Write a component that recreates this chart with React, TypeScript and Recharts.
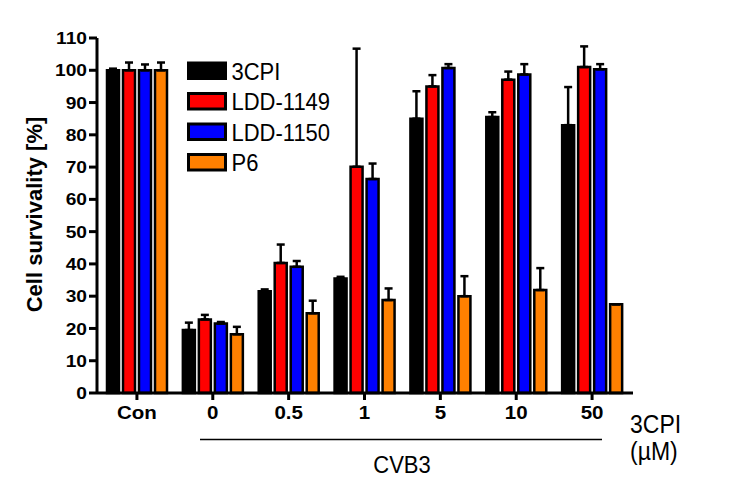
import React from 'react';
import { BarChart, Bar, XAxis, YAxis, ErrorBar, Legend } from 'recharts';

const categories = ['Con', '0', '0.5', '1', '5', '10', '50'];
const cpi = [100, 19.5, 31.5, 35.5, 85, 85.5, 83];
const cpiErr = [0.5, 2.3, 0.6, 0.5, 8.5, 1.5, 11.8];
const ldd1149 = [100, 22.8, 40.3, 70.1, 95, 97.1, 101];
const ldd1149Err = [2.4, 1.4, 5.7, 36.6, 3.5, 2.5, 6.4];
const ldd1150 = [100, 21.5, 39.1, 66.3, 100.7, 98.7, 100.3];
const ldd1150Err = [1.8, 0.5, 1.8, 4.8, 1.2, 3.2, 1.6];
const p6 = [100, 18.2, 24.7, 28.8, 30, 31.9, 27.5];
const p6Err = [2.4, 2.3, 3.9, 3.6, 6.2, 6.8, 0];
const yTicks = [0, 10, 20, 30, 40, 50, 60, 70, 80, 90, 100, 110];
const seriesNames = ['3CPI', 'LDD-1149', 'LDD-1150', 'P6'];
const seriesColors = ['#000000', '#FF0000', '#0000FF', '#FF8000'];

const data = categories.map((c, i) => ({
  cat: c,
  s0: cpi[i], e0: [0, cpiErr[i]],
  s1: ldd1149[i], e1: [0, ldd1149Err[i]],
  s2: ldd1150[i], e2: [0, ldd1150Err[i]],
  s3: p6[i], e3: [0, p6Err[i]],
}));

const FONT = '"Liberation Sans", Arial, Helvetica, sans-serif';

const YTick = (props: any) => {
  const { x, y, payload } = props;
  return (
    <text
      transform={`translate(${x}, ${y}) scale(1.13, 1)`}
      textAnchor="end"
      dy="0.36em"
      fontFamily={FONT}
      fontSize={17}
      fontWeight="bold"
      fill="#000"
    >
      {payload.value}
    </text>
  );
};

const XTick = (props: any) => {
  const { x, y, payload } = props;
  return (
    <text
      transform={`translate(${x}, ${y}) scale(1.08, 1)`}
      textAnchor="middle"
      dy="0.71em"
      fontFamily={FONT}
      fontSize={19}
      fontWeight="bold"
      fill="#000"
    >
      {payload.value}
    </text>
  );
};

const LegendContent = () => (
  <svg width={180} height={130} style={{ display: 'block' }}>
    {seriesNames.map((n, i) => (
      <g key={n} transform={`translate(${8.5}, ${8 + i * 30.5})`}>
        <rect x={0} y={0} width={37} height={15.5} fill={seriesColors[i]} stroke="#000" strokeWidth={3} />
        <text
          transform={`translate(43, 16.5) scale(1, 1.1)`}
          fontFamily={FONT}
          fontSize={22}
          fill="#000"
        >
          {n}
        </text>
      </g>
    ))}
  </svg>
);

export default function App() {
  return (
    <div style={{ position: 'absolute', left: 0, top: 0, width: 738, height: 484, background: '#fff' }}>
      <BarChart
        width={738}
        height={484}
        data={data}
        margin={{ top: 38, right: 105, bottom: 61, left: 37 }}
        barSize={12}
        barGap={4}
      >
        <XAxis
          dataKey="cat"
          height={30}
          padding={{ left: 2, right: 3 }}
          axisLine={{ stroke: '#000', strokeWidth: 3 }}
          tickLine={{ stroke: '#000', strokeWidth: 3 }}
          tickSize={7}
          tickMargin={6}
          tick={<XTick />}
          interval={0}
        />
        <YAxis
          width={60}
          domain={[0, 110]}
          ticks={yTicks}
          interval={0}
          axisLine={{ stroke: '#000', strokeWidth: 3 }}
          tickLine={{ stroke: '#000', strokeWidth: 3 }}
          tickSize={8}
          tickMargin={2}
          tick={<YTick />}
        />
        <Legend
          layout="vertical"
          align="center"
          verticalAlign="middle"
          wrapperStyle={{ left: 180, top: 55, width: 180, height: 130 }}
          content={<LegendContent />}
        />
        {seriesNames.map((n, i) => (
          <Bar
            key={n}
            dataKey={`s${i}`}
            name={n}
            fill={seriesColors[i]}
            stroke="#000"
            strokeWidth={2.5}
            isAnimationActive={false}
          >
            <ErrorBar dataKey={`e${i}`} width={4} stroke="#000" strokeWidth={2.5} direction="y" />
          </Bar>
        ))}
      </BarChart>
      <svg
        width={738}
        height={484}
        style={{ position: 'absolute', left: 0, top: 0, pointerEvents: 'none' }}
      >
        <text
          transform="translate(42, 214.5) rotate(-90)"
          textAnchor="middle"
          fontFamily={FONT}
          fontSize={22}
          fontWeight="bold"
          fill="#000"
        >
          Cell survivality [%]
        </text>
        <line x1={200} x2={602} y1={439.5} y2={439.5} stroke="#000" strokeWidth={1.5} />
        <text transform="translate(402, 473) scale(1, 1.12)" textAnchor="middle" fontFamily={FONT} fontSize={22} fill="#000">
          CVB3
        </text>
        <text transform="translate(630, 432.5) scale(1, 1.12)" fontFamily={FONT} fontSize={23} fill="#000">
          3CPI
        </text>
        <text transform="translate(630, 460) scale(1, 1.12)" fontFamily={FONT} fontSize={23} fill="#000">
          (µM)
        </text>
      </svg>
    </div>
  );
}
